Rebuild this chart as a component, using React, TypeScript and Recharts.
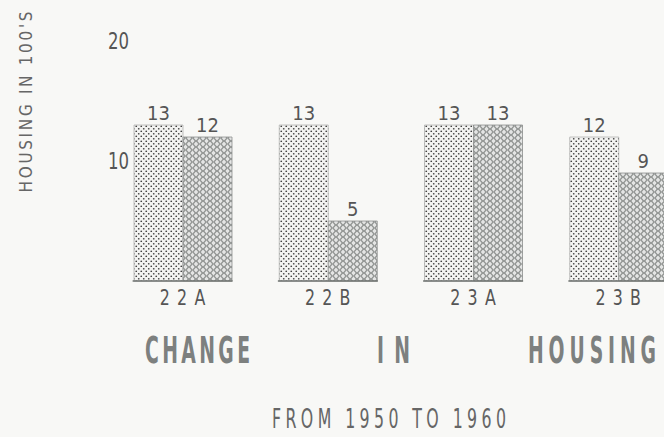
import { Bar, BarChart, LabelList, XAxis, YAxis } from "recharts";

const categories = ["22A", "22B", "23A", "23B"];
const housing1950 = [13, 13, 13, 12];
const housing1960 = [12, 5, 13, 9];
const yTicks = [10, 20];

const data = categories.map((name, i) => ({
  name,
  y1950: housing1950[i],
  y1960: housing1960[i]
}));

const FONT = "'DejaVu Sans Condensed', 'Liberation Sans Narrow', 'DejaVu Sans', sans-serif";
const BAR = 49;

function CategoryTick({ x, y, payload }: any) {
  return (
    <g>
      <line x1={x - BAR - 1} x2={x + BAR + 1} y1={y} y2={y} stroke="#6f7370" strokeWidth={1.6} />
      <text
        transform={`translate(${x - 23} ${y + 24}) scale(0.8 1)`}
        fontFamily={FONT}
        fontSize={22}
        fill="#555"
        textLength={57}
        lengthAdjust="spacing"
      >
        {payload.value}
      </text>
    </g>
  );
}

function ValueTick({ x, y, payload }: any) {
  return (
    <text
      transform={`translate(${x + 19} ${y + 8}) scale(0.8 1)`}
      textAnchor="end"
      fontFamily={FONT}
      fontSize={23}
      fill="#555"
    >
      {payload.value}
    </text>
  );
}

// spaced, narrow lettering like the typed original
function Lettering({ x, y, width, size, squeeze, weight, fill, children }: any) {
  return (
    <text
      transform={`translate(${x} ${y}) scale(${squeeze} 1)`}
      fontSize={size}
      fontWeight={weight}
      fill={fill}
      textLength={width / squeeze}
      lengthAdjust="spacing"
    >
      {children}
    </text>
  );
}

export default function App() {
  return (
    <div
      style={{
        position: "absolute",
        left: 0,
        top: 0,
        width: 664,
        height: 437,
        overflow: "hidden",
        background: "#f8f8f6"
      }}
    >
      <svg width={0} height={0} style={{ position: "absolute" }}>
        <defs>
          <pattern id="dots" width={5} height={5} patternUnits="userSpaceOnUse">
            <rect width={5} height={5} fill="#f3f3f1" />
            <circle cx={1.25} cy={1.25} r={0.85} fill="#3d3d3d" />
            <circle cx={3.75} cy={3.75} r={0.85} fill="#3d3d3d" />
          </pattern>
          <pattern id="mesh" width={7} height={6} patternUnits="userSpaceOnUse">
            <rect width={7} height={6} fill="#e4e5e4" />
            <circle cx={0} cy={0} r={2.6} fill="none" stroke="#939694" strokeWidth={1} />
            <circle cx={7} cy={0} r={2.6} fill="none" stroke="#939694" strokeWidth={1} />
            <circle cx={3.5} cy={3} r={2.6} fill="none" stroke="#939694" strokeWidth={1} />
            <circle cx={0} cy={6} r={2.6} fill="none" stroke="#939694" strokeWidth={1} />
            <circle cx={7} cy={6} r={2.6} fill="none" stroke="#939694" strokeWidth={1} />
          </pattern>
        </defs>
      </svg>

      <BarChart
        width={720}
        height={437}
        data={data}
        margin={{ top: 41, right: 29, left: 0, bottom: 126 }}
        barGap={0}
        barSize={BAR}
      >
        <XAxis
          dataKey="name"
          axisLine={false}
          tickLine={false}
          tickSize={0}
          tickMargin={0}
          height={30}
          tick={<CategoryTick />}
        />
        <YAxis
          width={110}
          domain={[0, 20]}
          ticks={yTicks}
          axisLine={false}
          tickLine={false}
          tickSize={0}
          tickMargin={0}
          tick={<ValueTick />}
        />
        <Bar dataKey="y1950" fill="url(#dots)" stroke="#9a9c9a" strokeWidth={0.6} isAnimationActive={false}>
          <LabelList dataKey="y1950" position="top" offset={5} fontFamily={FONT} fontSize={20} fill="#555" />
        </Bar>
        <Bar dataKey="y1960" fill="url(#mesh)" stroke="#8e918f" strokeWidth={0.8} isAnimationActive={false}>
          <LabelList dataKey="y1960" position="top" offset={5} fontFamily={FONT} fontSize={20} fill="#555" />
        </Bar>
      </BarChart>

      <svg
        width={664}
        height={437}
        style={{ position: "absolute", left: 0, top: 0, pointerEvents: "none" }}
        fontFamily={FONT}
      >
        <text
          x={26}
          y={102}
          transform="rotate(-90 26 102)"
          textAnchor="middle"
          dominantBaseline="central"
          fontSize={17}
          fill="#666"
          textLength={181}
          lengthAdjust="spacing"
        >
          HOUSING IN 100'S
        </text>
        <Lettering x={145} y={363} width={105} size={38} squeeze={0.55} weight="bold" fill="#7d807f">
          CHANGE
        </Lettering>
        <Lettering x={377} y={363} width={33} size={38} squeeze={0.55} weight="bold" fill="#7d807f">
          IN
        </Lettering>
        <Lettering x={528} y={363} width={128} size={38} squeeze={0.55} weight="bold" fill="#7d807f">
          HOUSING
        </Lettering>
        <Lettering x={272} y={428} width={234} size={27} squeeze={0.65} weight="normal" fill="#666">
          FROM 1950 TO 1960
        </Lettering>
      </svg>
    </div>
  );
}
